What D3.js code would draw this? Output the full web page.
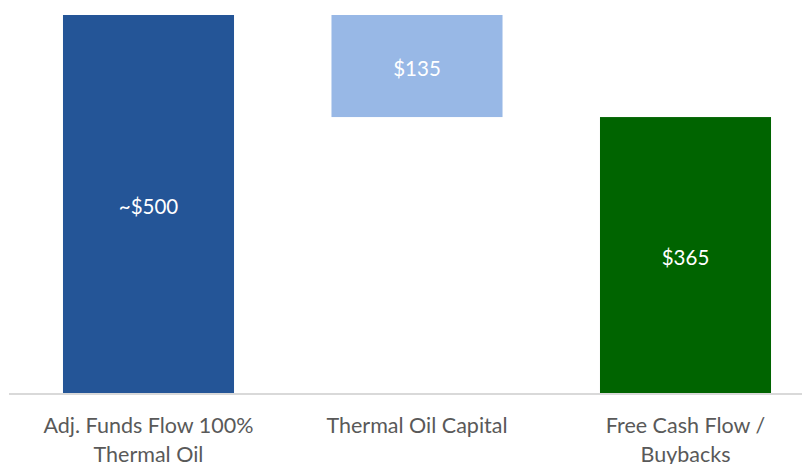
<!DOCTYPE html>
<html>
<head>
<meta charset="utf-8">
<script src="https://cdn.jsdelivr.net/npm/d3@7"></script>
<style>
  html, body { margin: 0; padding: 0; background: #fff; }
  svg { display: block; }
</style>
</head>
<body>
<svg id="chart" width="802" height="464"></svg>
<script>
// Waterfall: funds flow, less capital, leaves free cash flow
const categories = ["Adj. Funds Flow 100% Thermal Oil", "Thermal Oil Capital", "Free Cash Flow / Buybacks"];
const categoryLines = [["Adj. Funds Flow 100%", "Thermal Oil"], ["Thermal Oil Capital"], ["Free Cash Flow /", "Buybacks"]];
const barStart = [0, 365, 0];
const barEnd = [500, 500, 365];
const valueLabels = ["~$500", "$135", "$365"];
const colors = ["#245597", "#98b8e6", "#006400"];

const svg = d3.select("#chart");
const x = d3.scaleBand().domain(categories).range([14.25, 819.75]).paddingInner(0.363).paddingOuter(0.1815);
const y = d3.scaleLinear().domain([0, 500]).range([393, 15]);

const data = categories.map((c, i) => ({ c, s: barStart[i], e: barEnd[i], label: valueLabels[i], color: colors[i], lines: categoryLines[i] }));

svg.selectAll("rect.bar").data(data).join("rect")
  .attr("class", "bar")
  .attr("x", d => x(d.c))
  .attr("width", x.bandwidth())
  .attr("y", d => y(d.e))
  .attr("height", d => y(d.s) - y(d.e))
  .attr("fill", d => d.color);

// baseline
svg.append("line")
  .attr("x1", 9).attr("x2", 802)
  .attr("y1", y(0) + 1).attr("y2", y(0) + 1)
  .attr("stroke", "#d9d9d9").attr("stroke-width", 2);

const font = "Lato, 'Open Sans', sans-serif";

svg.selectAll("text.val").data(data).join("text")
  .attr("class", "val")
  .attr("x", d => x(d.c) + x.bandwidth() / 2)
  .attr("y", d => (y(d.s) + y(d.e)) / 2 + 3)
  .attr("dy", "0.35em")
  .attr("text-anchor", "middle")
  .attr("fill", "#ffffff")
  .style("font-family", font)
  .style("font-size", "20.5px")
  .text(d => d.label);

const cat = svg.selectAll("text.cat").data(data).join("text")
  .attr("class", "cat")
  .attr("text-anchor", "middle")
  .attr("fill", "#595959")
  .style("font-family", font)
  .style("font-size", "21.5px");

cat.selectAll("tspan").data(d => d.lines.map(l => ({ l, cx: x(d.c) + x.bandwidth() / 2 }))).join("tspan")
  .attr("x", d => d.cx)
  .attr("y", (d, i) => 433 + i * 29)
  .text(d => d.l);
</script>
</body>
</html>
